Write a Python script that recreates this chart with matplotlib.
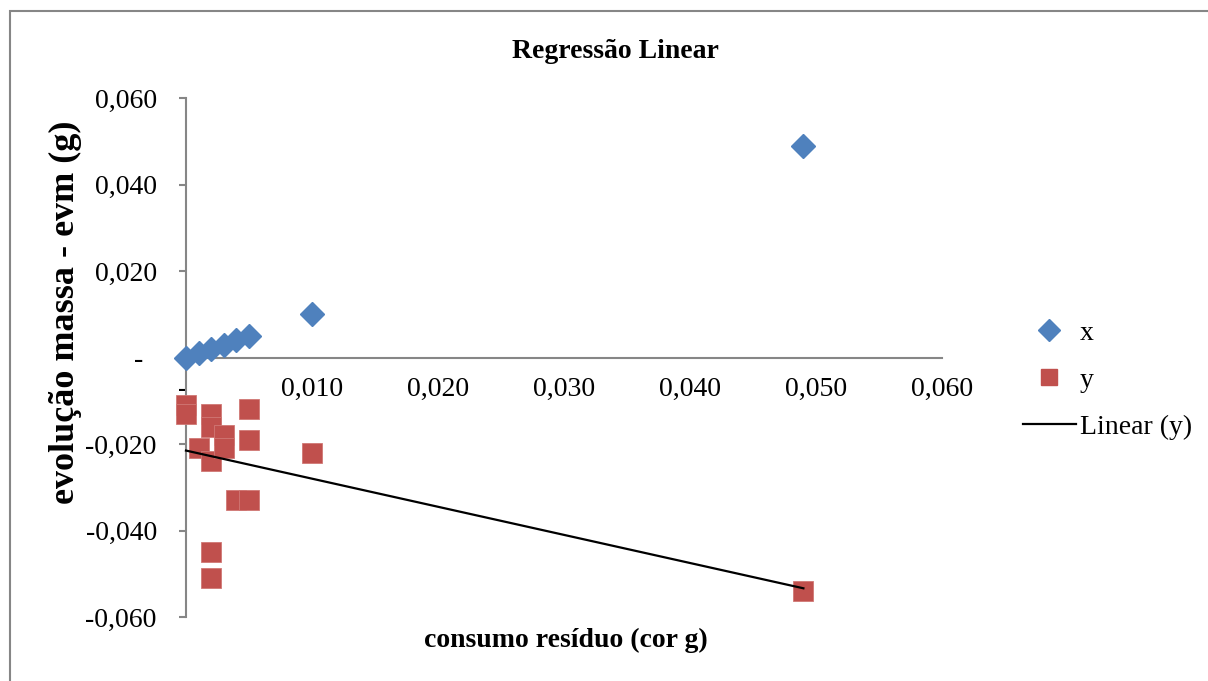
import numpy as np
import matplotlib
matplotlib.use("Agg")
import matplotlib.pyplot as plt
from matplotlib.lines import Line2D
from matplotlib.patches import Rectangle

# data
x_vals = [0.000, 0.001, 0.002, 0.003, 0.004, 0.005, 0.010, 0.049]
x_series = [0.000, 0.001, 0.002, 0.003, 0.004, 0.005, 0.010, 0.049]

y_x = [0.000, 0.000, 0.001, 0.002, 0.002, 0.002, 0.002, 0.002,
       0.003, 0.003, 0.004, 0.005, 0.005, 0.005, 0.010, 0.049]
y_series = [-0.011, -0.013, -0.021, -0.013, -0.016, -0.024, -0.045, -0.051,
            -0.018, -0.021, -0.033, -0.012, -0.019, -0.033, -0.022, -0.054]

tick_vals = [-0.060, -0.040, -0.020, 0.0, 0.020, 0.040, 0.060]
xtick_vals = [0.0, 0.010, 0.020, 0.030, 0.040, 0.050, 0.060]


def fmt(v):
    if abs(v) < 1e-12:
        return "-"
    return ("%.3f" % v).replace(".", ",")


plt.rcParams['font.family'] = ['Liberation Serif', 'DejaVu Serif']

W, H = 1208, 681
fig = plt.figure(figsize=(W / 100, H / 100), dpi=100)
ax = fig.add_axes([186 / W, 1 - 617 / H, (942 - 186) / W, (617 - 98) / H])

blue = '#4F81BD'
red = '#C0504D'
axis_col = '#868686'

ax.plot(x_vals, x_series, 'D', color=blue, ms=12, mec=blue, label='x',
        zorder=3, clip_on=False)
ax.plot(y_x, y_series, 's', color=red, ms=14.4, mec='#D07875', mew=0.6, label='y',
        zorder=3, clip_on=False)

# Excel-style linear trendline for y
slope, intercept = np.polyfit(y_x, y_series, 1)
tx = np.array([min(y_x), max(y_x)])
ax.plot(tx, slope * tx + intercept, color='black', lw=1.6, label='Linear (y)',
        zorder=4, clip_on=False)

ax.set_xlim(0, 0.060)
ax.set_ylim(-0.060, 0.060)

for s in ['top', 'right']:
    ax.spines[s].set_visible(False)
ax.spines['left'].set_position(('data', 0))
ax.spines['bottom'].set_position(('data', 0))
for s in ['left', 'bottom']:
    ax.spines[s].set_color(axis_col)
    ax.spines[s].set_linewidth(1.5)

ax.set_yticks(tick_vals)
ax.set_yticklabels([fmt(v) + ("  " if abs(v) < 1e-12 else "") for v in tick_vals])
ax.set_xticks(xtick_vals)
ax.set_xticklabels([fmt(v) + (" " if abs(v) < 1e-12 else "") for v in xtick_vals])
ax.tick_params(axis='y', direction='out', length=5, width=1.5, color=axis_col,
               labelsize=20, pad=16)
ax.tick_params(axis='x', length=0, labelsize=20, pad=14)
ax.patch.set_visible(False)

fig.text(615 / W, 1 - 51 / H, 'Regressão Linear', ha='center', va='center',
         fontsize=20, fontweight='bold')
fig.text(566 / W, 1 - 640 / H, 'consumo resíduo (cor g)', ha='center', va='center',
         fontsize=20, fontweight='bold')
fig.text(65 / W, 1 - 312 / H, 'evolução massa - evm (g)', ha='center', va='center',
         rotation=90, fontsize=26, fontweight='bold')

handles = [
    Line2D([], [], ls='none', marker='D', color=blue, ms=11),
    Line2D([], [], ls='none', marker='s', color=red, ms=12),
    Line2D([], [], color='black', lw=1.6),
]
fig.legend(handles, ['x', 'y', 'Linear (y)'], loc='center left',
           bbox_to_anchor=(1009 / W, 1 - 380 / H), frameon=False, fontsize=20,
           handlelength=1.9, handletextpad=0.15, labelspacing=0.78, borderpad=0)

# outer chart border
fig.patches.append(Rectangle((10 / W, -0.1), 1.2, 1 - 11 / H + 0.1,
                             transform=fig.transFigure, fill=False,
                             edgecolor=axis_col, lw=1.5))

fig.savefig('out.png', dpi=100)
